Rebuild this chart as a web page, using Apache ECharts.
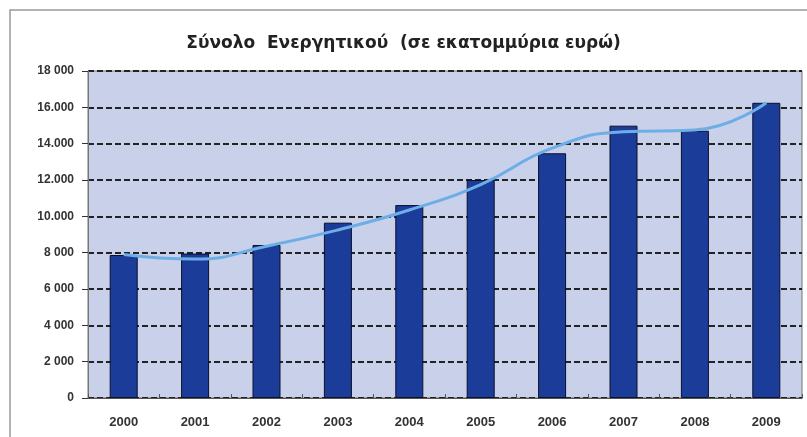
<!DOCTYPE html>
<html><head><meta charset="utf-8">
<script src="https://cdn.jsdelivr.net/npm/echarts@6/dist/echarts.min.js"></script>
<style>html,body{margin:0;padding:0;background:#fff}#c{width:807px;height:437px}</style>
</head><body><div id="c"></div>
<script>
const titleText = 'Σύνολο  Ενεργητικού  (σε εκατομμύρια ευρώ)';
const categories = ['2000','2001','2002','2003','2004','2005','2006','2007','2008','2009'];
const assets = [7870, 7950, 8420, 9650, 10620, 12000, 13470, 14990, 14710, 16250];
const trend = [7900, 7650, 8350, 9250, 10350, 11750, 13750, 14650, 14750, 16250];
const yTickLabels = {0:'0',2000:'2 000',4000:'4 000',6000:'6 000',8000:'8 000',10000:'10.000',12000:'12.000',14000:'14.000',16000:'16.000',18000:'18 000'};

const chart = echarts.init(document.getElementById('c'));
chart.setOption({
  animation:false,
  backgroundColor:'#ffffff',
  title:{text:titleText,left:'center',top:30,textStyle:{fontFamily:'DejaVu Sans',fontSize:17,fontWeight:'bold',color:'#222'}},
  graphic:[{type:'rect',shape:{x:10,y:10,width:810,height:440},style:{fill:'none',stroke:'#9a9a9a',lineWidth:1.5},silent:true}],
  grid:{left:88,right:5,top:71,bottom:39,show:true,backgroundColor:'#c8d0ea',borderColor:'#777',borderWidth:1},
  xAxis:{type:'category',data:categories,
    axisLine:{lineStyle:{color:'#555'}},
    axisTick:{show:true,length:4,inside:true,lineStyle:{color:'#555'}},
    axisLabel:{margin:18,fontFamily:'Liberation Sans',fontSize:13,fontWeight:'bold',color:'#333'}},
  yAxis:{type:'value',min:0,max:18000,interval:2000,
    axisLine:{show:true,lineStyle:{color:'#777'}},
    axisTick:{show:true,length:6,lineStyle:{color:'#333'}},
    axisLabel:{margin:14,fontFamily:'Liberation Sans',fontSize:12,fontWeight:'bold',color:'#333',formatter:v=>yTickLabels[v]},
    splitLine:{show:true,lineStyle:{color:'#222',type:[6,3],width:2}}},
  series:[
    {type:'bar',data:assets,barWidth:28,itemStyle:{color:'#1c3c9a',borderColor:'#0a0f2a',borderWidth:1}},
    {type:'line',data:trend,smooth:0.5,showSymbol:false,lineStyle:{color:'#6eaee6',width:3}}
  ]
});
</script></body></html>
